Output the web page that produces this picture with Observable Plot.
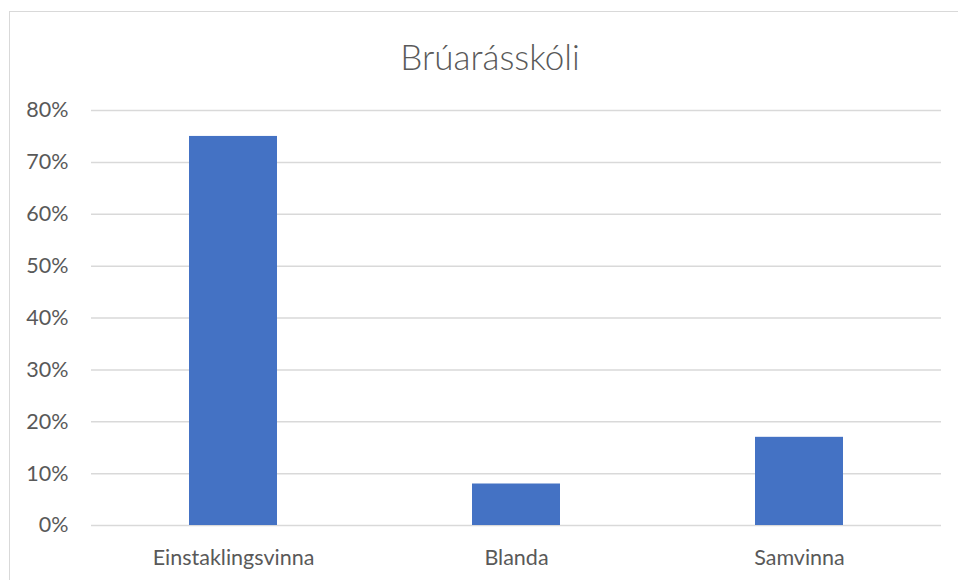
<!DOCTYPE html>
<html>
<head>
<meta charset="utf-8">
<script src="https://cdn.jsdelivr.net/npm/d3@7"></script>
<script src="https://cdn.jsdelivr.net/npm/@observablehq/plot@0.6"></script>
<style>
  html, body { margin: 0; padding: 0; background: #fff; }
  #wrap { position: relative; width: 958px; height: 580px; overflow: hidden; font-family: Lato, "Open Sans", sans-serif; }
  #frame { position: absolute; left: 9px; top: 11px; width: 980px; height: 620px; border: 1.5px solid #d9d9d9; box-sizing: border-box; pointer-events: none; }
  #title { position: absolute; left: 0; top: 34px; width: 958px; height: 44px; box-sizing: border-box; padding-left: 22px; text-align: center; font-size: 35px; line-height: 44px; color: #595959; font-weight: 300; }
  #chart { position: absolute; left: 0; top: 90px; }
</style>
</head>
<body>
<div id="wrap">
  <div id="frame"></div>
  <div id="title">Brúarásskóli</div>
  <div id="chart"></div>
</div>
<script>
const categories = ["Einstaklingsvinna", "Blanda", "Samvinna"];
const values = [0.75, 0.08, 0.17];
const yTicks = [0, 0.1, 0.2, 0.3, 0.4, 0.5, 0.6, 0.7, 0.8];

const data = categories.map((c, i) => ({category: c, value: values[i]}));
const pct = d => Math.round(d * 100) + "%";

const plot = Plot.plot({
  width: 958,
  height: 490,
  marginTop: 20,
  marginBottom: 55,
  marginLeft: 91,
  marginRight: 17,
  style: {fontFamily: "Lato, 'Open Sans', sans-serif", fontSize: "21px", color: "#595959", background: "transparent"},
  x: {domain: categories, label: null, paddingInner: 0.69, paddingOuter: 0.345},
  y: {domain: [0, 0.8], label: null},
  marks: [
    Plot.ruleY(yTicks, {stroke: "#d9d9d9", strokeWidth: 1.5}),
    Plot.barY(data, {x: "category", y: "value", fill: "#4472C4"}),
    Plot.axisX({tickSize: 0, tickPadding: 24, fontSize: 21.5, fill: "#595959", label: null}),
    Plot.axisY({ticks: yTicks, tickFormat: pct, tickSize: 0, tickPadding: 23, fontSize: 21.5, fill: "#595959", label: null})
  ]
});
document.getElementById("chart").appendChild(plot);
</script>
</body>
</html>
